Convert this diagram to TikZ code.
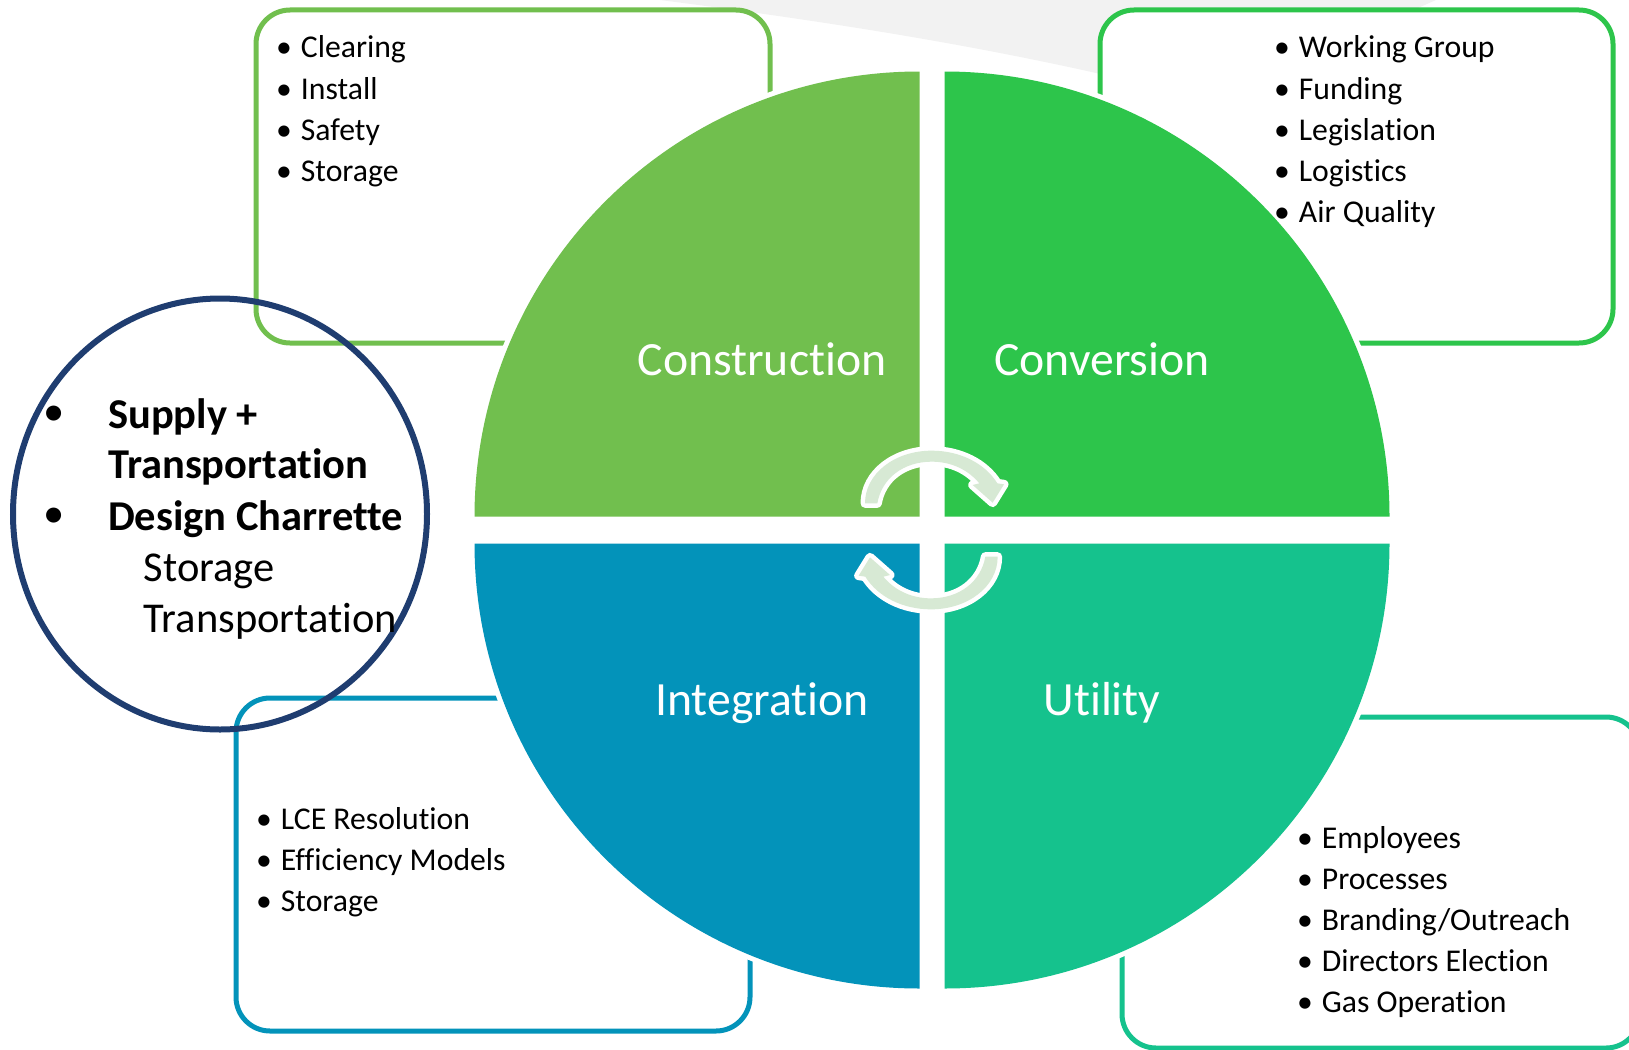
\documentclass[tikz,border=0pt]{standalone}
\usepackage{fontspec}
\setmainfont[Ligatures=NoCommon]{Carlito}
\definecolor{cTL}{HTML}{71BF4E}
\definecolor{cTR}{HTML}{2DC54B}
\definecolor{cBL}{HTML}{0393BA}
\definecolor{cBR}{HTML}{15C28D}
\definecolor{cNavy}{HTML}{1F3D70}
\definecolor{cArrow}{HTML}{D7E9D4}
\definecolor{cGray}{HTML}{F2F2F2}
\tikzset{
  outline/.style={line width=5pt,fill=white,rounded corners=34pt},
  quarter/.style={fill=#1,preaction={draw=white,line width=10pt}},
  bigtext/.style={text=white,font=\fontsize{47.7}{54}\selectfont,inner sep=0pt,anchor=base},
  item/.style={font=\fontsize{31.7}{41}\selectfont,inner sep=0pt,anchor=base west},
  dot/.style={font=\fontsize{31.7}{41}\selectfont,inner sep=0pt,anchor=base},
  ctext/.style={font=\fontsize{42.5}{50}\selectfont,inner sep=0pt,anchor=base west},
  cdot/.style={font=\fontsize{42.5}{50}\selectfont,inner sep=0pt,anchor=base},
  cyclearrow/.style={fill=cArrow,preaction={draw=white,line width=9pt,line join=round}},
}
\newcommand{\cyclepath}{
  (135,250) .. controls (135,160) and (225,92) .. (335,92)
  .. controls (420,92) and (495,130) .. (532,190)
  -- (552,193) -- (518,248) -- (458,195) -- (478,190)
  .. controls (445,150) and (395,125) .. (335,125)
  .. controls (250,125) and (185,175) .. (172,250) -- cycle
}
\newcommand{\itemlist}[4]{% prefix, bullet x, first baseline, items
  \foreach \t [count=\i from 0] in {#4} {
    \pgfmathsetmacro{\yy}{#3+41*\i}
    \node[dot] (#1d\i) at (#2,\yy) {•};
    \node[item] (#1t\i) at (#2+16.7,\yy) {\t};
  }
}
\begin{document}
\begin{tikzpicture}[x=1pt,y=-1pt]
\useasboundingbox (0,0) rectangle (1629,1049);
% faint grey sweep behind the boxes
\fill[cGray] (660,0) .. controls (800,18) and (950,40) .. (1105,75) -- (1300,75) -- (1418,8) -- (1436,0) -- cycle;
% outlined boxes
\draw[outline,draw=cTL] (256,10) rectangle (770,343);
\draw[outline,draw=cTR] (1100,10) rectangle (1613,343);
\draw[outline,draw=cBL] (236,698) rectangle (750,1031);
\draw[outline,draw=cBR] (1122,717) rectangle (1640,1048);
% quarters
\path[quarter=cTL] (919.5,516.5) -- (474.5,516.5) arc[start angle=180,end angle=90,radius=445pt] -- cycle;
\path[quarter=cTR] (944.5,516.5) -- (944.5,71.5) arc[start angle=90,end angle=0,radius=445pt] -- cycle;
\path[quarter=cBL] (919.5,543.5) -- (919.5,988.5) arc[start angle=270,end angle=180,radius=445pt] -- cycle;
\path[quarter=cBR] (944.5,543.5) -- (1389.5,543.5) arc[start angle=0,end angle=-90,radius=445pt] -- cycle;
% cycle arrows
\begin{scope}[shift={(820pt,-420pt)},x=0.33333pt,y=-0.33333pt]
  \path[cyclearrow] \cyclepath;
\end{scope}
\begin{scope}[rotate around={180:(931.33pt,-530pt)},shift={(820pt,-420pt)},x=0.33333pt,y=-0.33333pt]
  \path[cyclearrow] \cyclepath;
\end{scope}
% quarter labels
\node[bigtext] (construction) at (762,375) {Construction};
\node[bigtext] (conversion) at (1102,375) {Conversion};
\node[bigtext] (integration) at (762,715) {Integration};
\node[bigtext] (utility) at (1102,715) {Utility};
% lists
\itemlist{a}{284}{58}{Clearing,Install,Safety,Storage}
\itemlist{b}{1282}{58}{Working Group,Funding,Legislation,Logistics,Air Quality}
\itemlist{c}{264}{829}{LCE Resolution,Efficiency Models,Storage}
\itemlist{d}{1305}{848}{Employees,Processes,Branding/Outreach,Directors Election,Gas Operation}
% navy circle
\draw[cNavy,line width=6pt] (220,514) ellipse[x radius=207pt,y radius=215.5pt];
\node[cdot] (cd1) at (54,425) {•};
\node[cdot] (cd2) at (54,527) {•};
\node[ctext] (c1) at (108,428) {\bfseries Supply +};
\node[ctext] (c2) at (108,478.5) {\bfseries Transportation};
\node[ctext] (c3) at (108,530.5) {\bfseries Design Charrette};
\node[ctext] (c4) at (143.5,581.5) {Storage};
\node[ctext] (c5) at (143.5,632.5) {Transportation};
\end{tikzpicture}
\end{document}
